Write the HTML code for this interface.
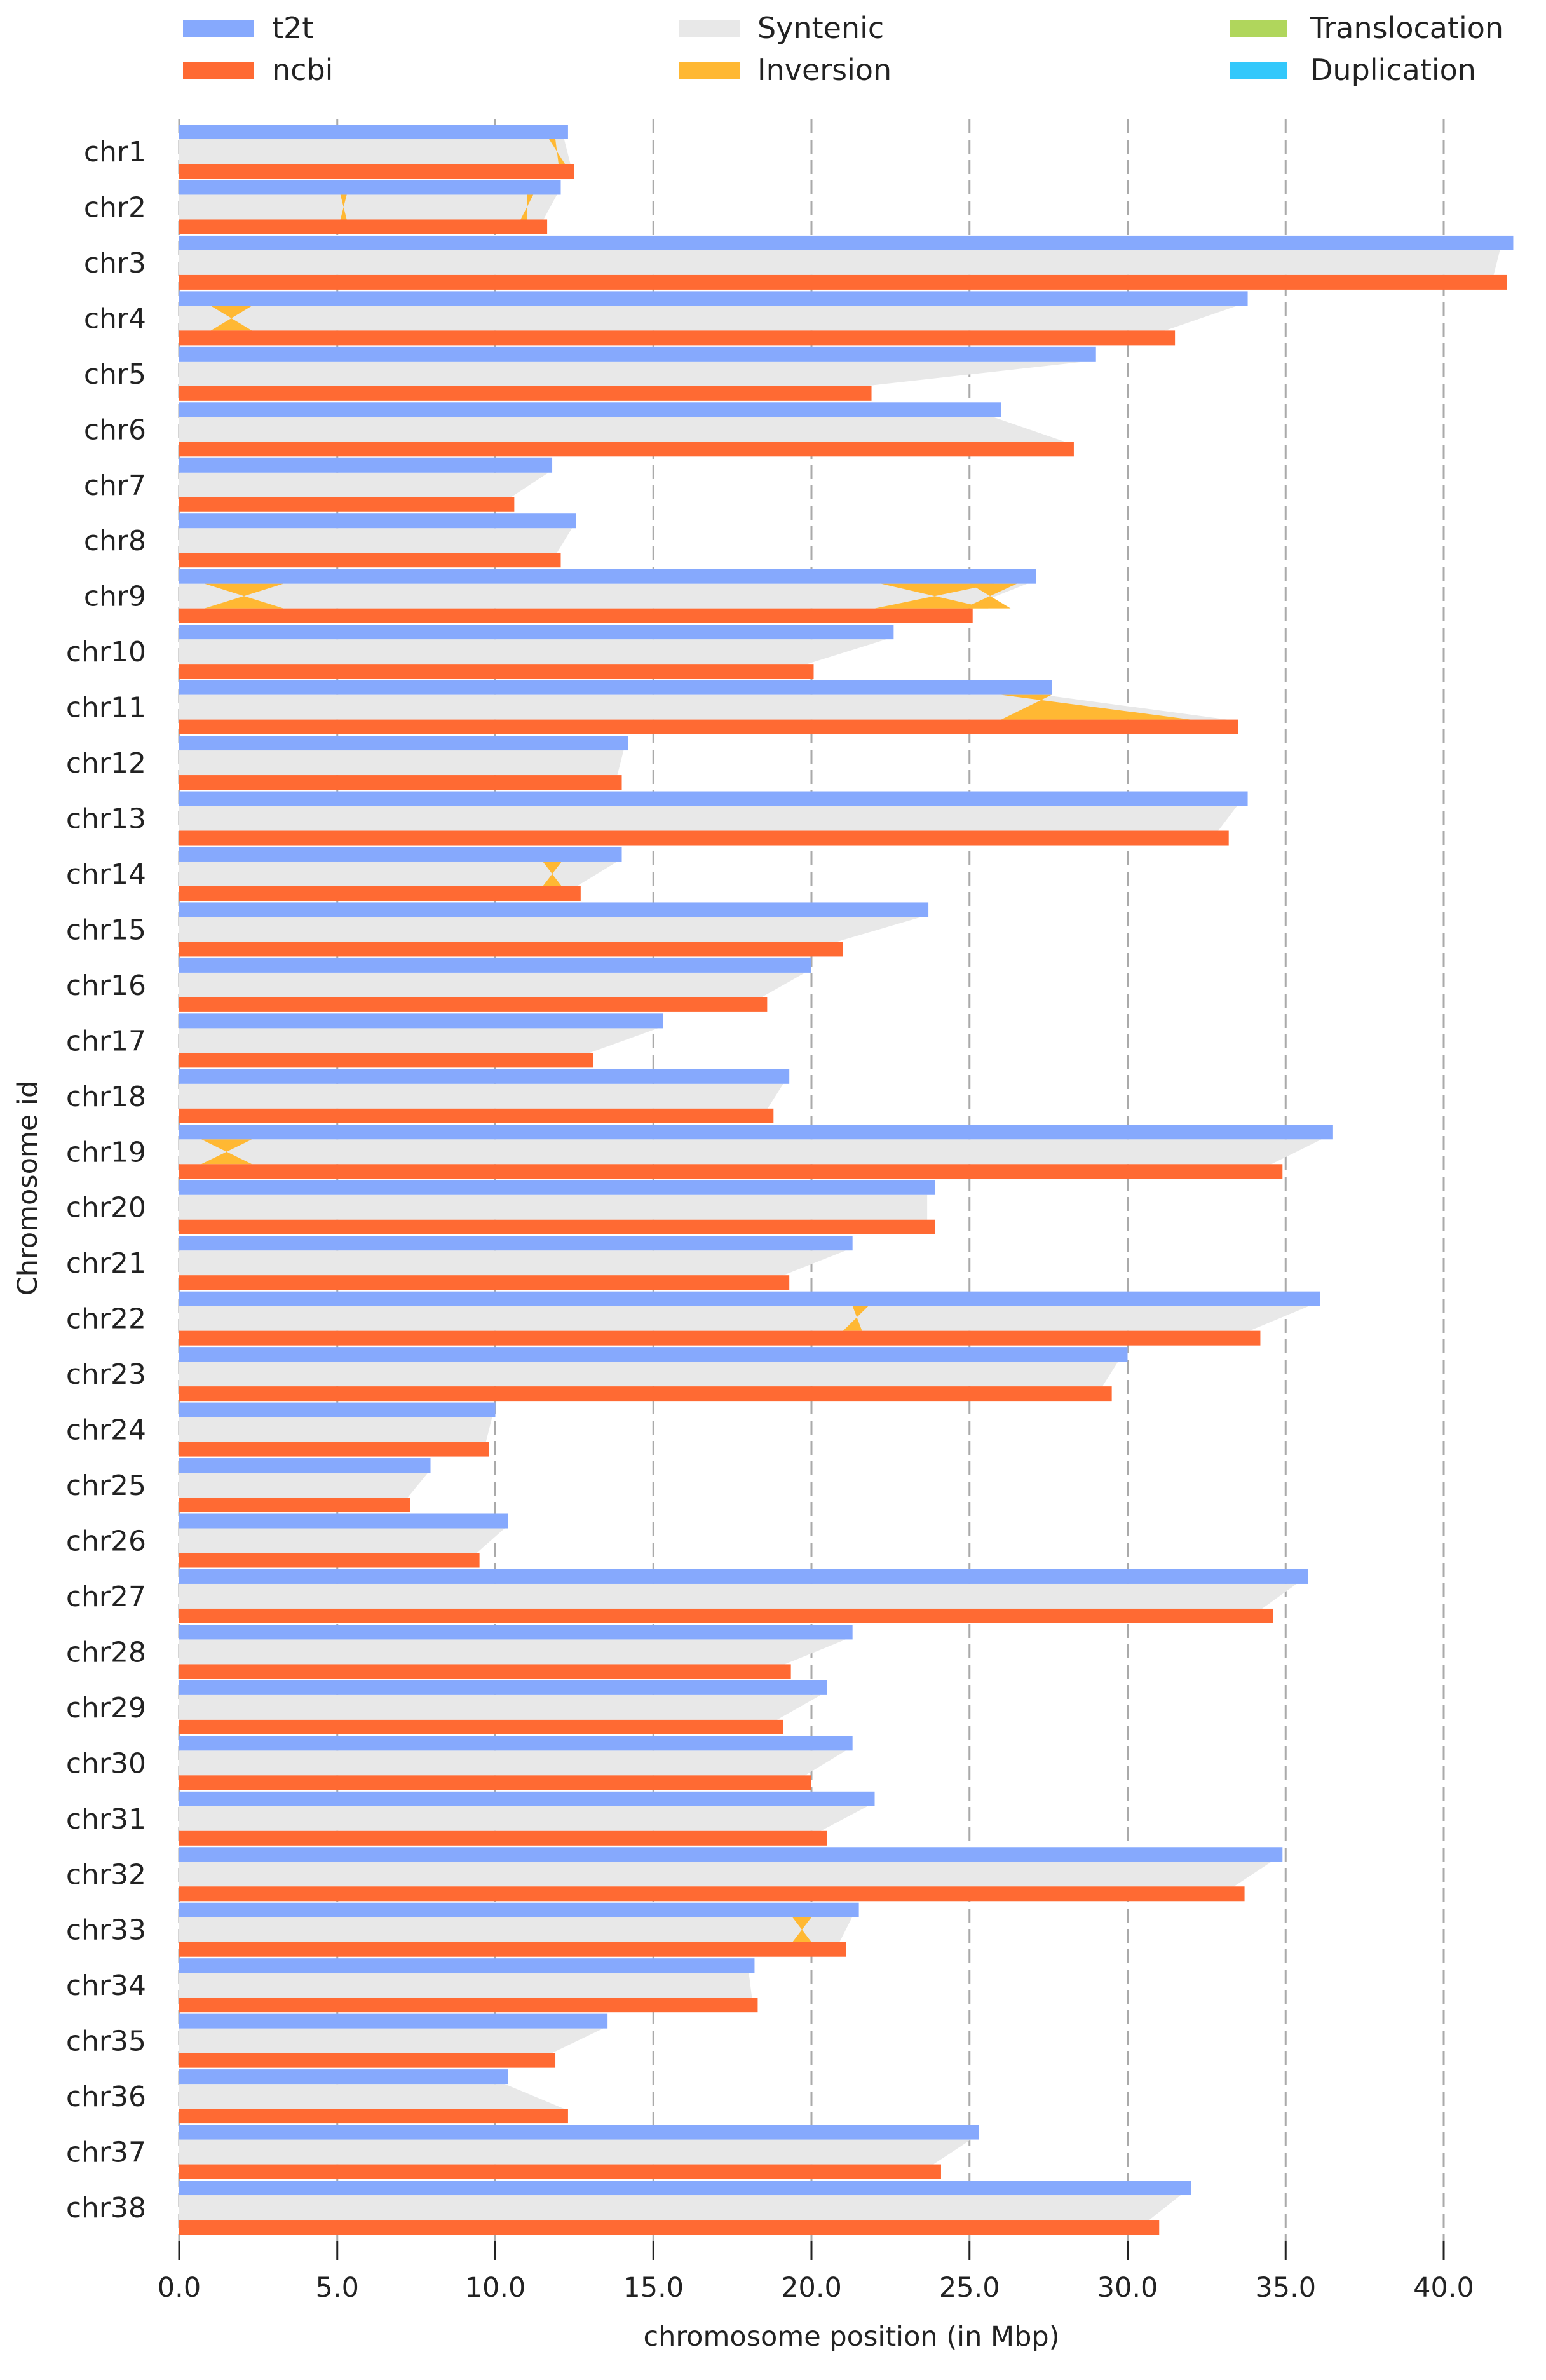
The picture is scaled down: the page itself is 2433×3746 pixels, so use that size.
<!DOCTYPE html>
<html><head><meta charset="utf-8"><style>
html,body{margin:0;padding:0;background:#fff;}
svg text{font-family:"DejaVu Sans","Liberation Sans",sans-serif;fill:#222;}
</style></head><body>
<svg id="chart" width="2433" height="3741" viewBox="0 0 2433 3741" xmlns="http://www.w3.org/2000/svg">
<g id="legend">
 <g><rect x="288" y="32" width="112" height="26" fill="#86a9fd"/><text x="428" y="60" font-size="46">t2t</text></g>
 <g><rect x="288" y="98" width="112" height="26" fill="#ff6a33"/><text x="428" y="126" font-size="46">ncbi</text></g>
 <g><rect x="1068" y="32" width="96" height="26" fill="#e8e8e8"/><text x="1192" y="60" font-size="46">Syntenic</text></g>
 <g><rect x="1068" y="98" width="96" height="26" fill="#ffb833"/><text x="1192" y="126" font-size="46">Inversion</text></g>
 <g><rect x="1935" y="32" width="90" height="26" fill="#b0d65c"/><text x="2062" y="60" font-size="46">Translocation</text></g>
 <g><rect x="1935" y="98" width="90" height="26" fill="#33c8fb"/><text x="2062" y="126" font-size="46">Duplication</text></g>
</g>
<g id="grid"></g>
<g id="plot"></g>
<g id="axes"></g>
</svg>
<script>
const chromosomes = ["chr1","chr2","chr3","chr4","chr5","chr6","chr7","chr8","chr9","chr10","chr11","chr12","chr13","chr14","chr15","chr16","chr17","chr18","chr19","chr20","chr21","chr22","chr23","chr24","chr25","chr26","chr27","chr28","chr29","chr30","chr31","chr32","chr33","chr34","chr35","chr36","chr37","chr38"];
const t2tLengths = [12.3,12.07,42.2,33.8,29.0,26.0,11.8,12.55,27.1,22.6,27.6,14.2,33.8,14.0,23.7,20.0,15.3,19.3,36.5,23.9,21.3,36.1,30.0,10.0,7.95,10.4,35.7,21.3,20.5,21.3,22.0,34.9,21.5,18.2,13.55,10.4,25.3,32.0];
const ncbiLengths = [12.5,11.64,42.0,31.5,21.9,28.3,10.6,12.07,25.1,20.07,33.5,14.0,33.2,12.7,21.0,18.6,13.1,18.8,34.9,23.9,19.3,34.2,29.5,9.8,7.3,9.5,34.6,19.35,19.1,20.0,20.5,33.7,21.1,18.3,11.9,12.3,24.1,31.0];
// inversions: chromosome index, t2t start, t2t end, ncbi start, ncbi end
const invChrom = [3,8,8,8,10,13,18,21,32,1,1,0];
const invT2tStart = [1.0,0.8,22.2,25.0,26.0,11.5,0.7,21.3,19.4,5.1,11.0,11.7];
const invT2tEnd = [2.3,3.3,25.8,26.5,27.6,12.1,2.3,21.8,20.0,5.3,11.2,11.9];
const invNcbiStart = [1.0,0.8,22.0,24.8,26.0,11.5,0.7,21.0,19.4,5.1,10.8,12.0];
const invNcbiEnd = [2.3,3.3,25.6,26.3,32.0,12.1,2.3,21.6,20.0,5.3,11.0,12.2];
const xTicks = [0,5,10,15,20,25,30,35,40];
const xTickLabels = ["0.0","5.0","10.0","15.0","20.0","25.0","30.0","35.0","40.0"];

const NS="http://www.w3.org/2000/svg";
const X0=282, XS=49.75, Y0=196, PITCH=87.46, BH=23, GAP=62;
const xScale = v => X0 + v*XS;
const yBlue = i => Y0 + i*PITCH;
const yOrange = i => Y0 + i*PITCH + GAP;
function mk(tag, attrs, parent){const e=document.createElementNS(NS,tag);for(const k in attrs)e.setAttribute(k,attrs[k]);parent.appendChild(e);return e;}
const grid=document.getElementById('grid'), plot=document.getElementById('plot'), axes=document.getElementById('axes');

xTicks.forEach((t,i)=>{
  const gl=mk('line',{x1:xScale(t),x2:xScale(t),y1:188,y2:3528,stroke:'#aaa','stroke-width':3,'stroke-dasharray':'22,10'},grid);
  
  
  const tk=mk('line',{x1:xScale(t),x2:xScale(t),y1:3528,y2:3557,stroke:'#222','stroke-width':3},axes);
  
  
  const tl=mk('text',{x:xScale(t),y:3615,'font-size':43,'text-anchor':'middle'},axes);
  tl.textContent=xTickLabels[i];
  
  
});

chromosomes.forEach((c,i)=>{
  const b=yBlue(i)+BH, o=yOrange(i);
  const syn=mk('polygon',{points:`${xScale(0)},${b} ${xScale(t2tLengths[i]*0.99)},${b} ${xScale(ncbiLengths[i]*0.99)},${o} ${xScale(0)},${o}`,fill:'#e8e8e8'},plot);
  
  
});
invChrom.forEach((ci,k)=>{
  const b=yBlue(ci)+BH, o=yOrange(ci);
  const p=mk('polygon',{points:`${xScale(invT2tStart[k])},${b} ${xScale(invT2tEnd[k])},${b} ${xScale(invNcbiStart[k])},${o} ${xScale(invNcbiEnd[k])},${o}`,fill:'#ffb833'},plot);
  
  
});
chromosomes.forEach((c,i)=>{
  const rb=mk('rect',{x:xScale(0),y:yBlue(i),width:t2tLengths[i]*XS,height:BH,fill:'#86a9fd'},plot);
  
  
  const ro=mk('rect',{x:xScale(0),y:yOrange(i),width:ncbiLengths[i]*XS,height:BH,fill:'#ff6a33'},plot);
  
  
  const lb=mk('text',{x:230,y:yBlue(i)+58,'font-size':44,'text-anchor':'end'},axes);
  lb.textContent=c;
  
  
});
const xt=mk('text',{x:1340,y:3692,'font-size':43,'text-anchor':'middle'},axes);
xt.textContent='chromosome position (in Mbp)';


const yt=mk('text',{x:0,y:0,'font-size':43,'text-anchor':'middle',transform:'translate(58,1870) rotate(-90)'},axes);
yt.textContent='Chromosome id';


</script>
</body></html>
